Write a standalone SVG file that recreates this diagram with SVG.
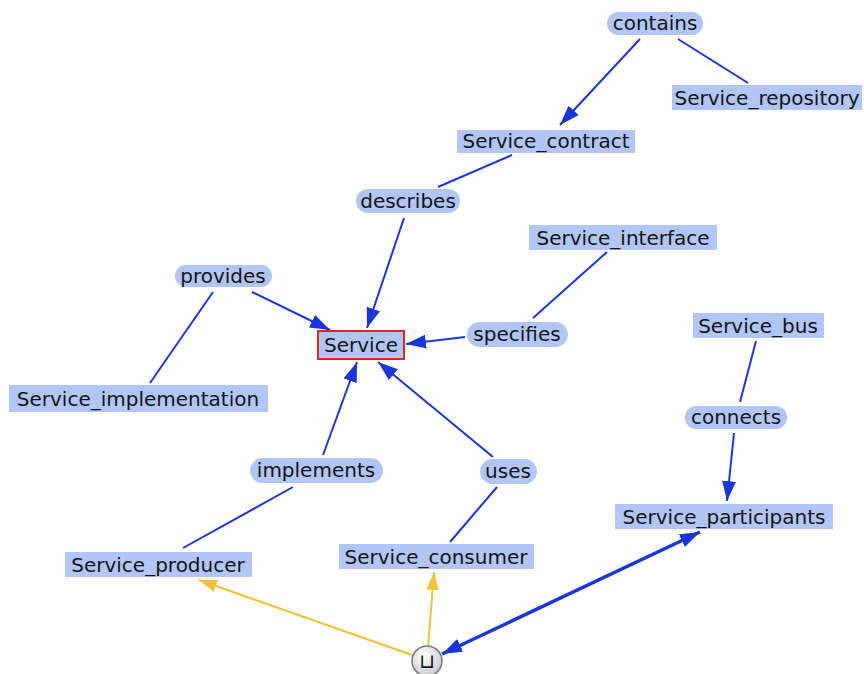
<svg xmlns="http://www.w3.org/2000/svg" width="864" height="674" viewBox="0 0 864 674">
<defs>
<style>
.n{fill:#b1c5f6}
.t{font-family:"DejaVu Sans",sans-serif;font-size:20px;fill:#141414;text-anchor:middle}
.e{stroke:#1a36d8;stroke-width:2;fill:none}
.y{stroke:#f0c23a;stroke-width:2;fill:none}
</style>
<marker id="ab" viewBox="0 0 20 14" refX="20" refY="7" markerWidth="20" markerHeight="14" markerUnits="userSpaceOnUse" orient="auto-start-reverse"><path d="M0,0L20,7L0,14z" fill="#1a36d8"/></marker>
<marker id="ay" viewBox="0 0 20 14" refX="20" refY="7" markerWidth="18" markerHeight="13" markerUnits="userSpaceOnUse" orient="auto"><path d="M0,0L20,7L0,14z" fill="#f0c23a"/></marker>
<radialGradient id="ug" cx="0.4" cy="0.35" r="0.7"><stop offset="0" stop-color="#ffffff"/><stop offset="1" stop-color="#c8c8c8"/></radialGradient>
</defs>
<rect width="864" height="674" fill="#ffffff"/>
<g id="connectors">
<line class="e" x1="640" y1="39" x2="560" y2="125" marker-end="url(#ab)"/>
<line class="e" x1="678" y1="39" x2="748" y2="83"/>
<line class="e" x1="512" y1="155" x2="438" y2="187"/>
<line class="e" x1="404" y1="218" x2="367" y2="328" marker-end="url(#ab)"/>
<line class="e" x1="607" y1="252" x2="533" y2="318"/>
<line class="e" x1="465" y1="337" x2="406" y2="344" marker-end="url(#ab)"/>
<line class="e" x1="252" y1="292" x2="330" y2="330" marker-end="url(#ab)"/>
<line class="e" x1="213" y1="292" x2="150" y2="383"/>
<line class="e" x1="323" y1="455" x2="357" y2="362" marker-end="url(#ab)"/>
<line class="e" x1="493" y1="457" x2="378" y2="362" marker-end="url(#ab)"/>
<line class="e" x1="293" y1="487" x2="183" y2="548"/>
<line class="e" x1="497" y1="487" x2="450" y2="542"/>
<line class="e" x1="756" y1="341" x2="740" y2="402"/>
<line class="e" x1="734" y1="433" x2="727" y2="501" marker-end="url(#ab)"/>
<line class="y" x1="412" y1="655" x2="199" y2="580" marker-end="url(#ay)"/>
<line class="y" x1="428" y1="647" x2="434" y2="572" marker-end="url(#ay)"/>
<line class="e" style="stroke-width:3.5" x1="442" y1="654" x2="700" y2="532" marker-start="url(#ab)" marker-end="url(#ab)"/>
</g>
<g id="contains"><rect class="n" x="607" y="12" width="96" height="23" rx="11.5"/><text class="t" x="655" y="30">contains</text></g>
<g id="Service_repository"><rect class="n" x="672" y="85" width="190" height="25"/><text class="t" x="767" y="105">Service_repository</text></g>
<g id="Service_contract"><rect class="n" x="457" y="130" width="178" height="23"/><text class="t" x="546" y="148">Service_contract</text></g>
<g id="describes"><rect class="n" x="356" y="189" width="104" height="24" rx="12"/><text class="t" x="408" y="208">describes</text></g>
<g id="Service_interface"><rect class="n" x="529" y="225" width="188" height="25"/><text class="t" x="623" y="245">Service_interface</text></g>
<g id="specifies"><rect class="n" x="467" y="322" width="101" height="25" rx="12.5"/><text class="t" x="517" y="341">specifies</text></g>
<g id="Service"><rect class="n" x="318" y="331" width="86" height="28" stroke="#d22a2a" stroke-width="2"/><text class="t" x="361" y="352">Service</text></g>
<g id="provides"><rect class="n" x="175" y="265" width="97" height="22" rx="11"/><text class="t" x="223" y="283">provides</text></g>
<g id="Service_implementation"><rect class="n" x="9" y="385" width="259" height="27"/><text class="t" x="138" y="406">Service_implementation</text></g>
<g id="implements"><rect class="n" x="250" y="458" width="133" height="25" rx="12.5"/><text class="t" x="316" y="477">implements</text></g>
<g id="uses"><rect class="n" x="480" y="459" width="57" height="25" rx="12.5"/><text class="t" x="508" y="478">uses</text></g>
<g id="Service_producer"><rect class="n" x="65" y="552" width="187" height="25"/><text class="t" x="158" y="572">Service_producer</text></g>
<g id="Service_consumer"><rect class="n" x="339" y="544" width="195" height="25"/><text class="t" x="436" y="564">Service_consumer</text></g>
<g id="Service_bus"><rect class="n" x="693" y="313" width="131" height="25"/><text class="t" x="758" y="333">Service_bus</text></g>
<g id="connects"><rect class="n" x="685" y="406" width="102" height="23" rx="11.5"/><text class="t" x="736" y="424">connects</text></g>
<g id="Service_participants"><rect class="n" x="615" y="504" width="218" height="25"/><text class="t" x="724" y="524">Service_participants</text></g>
<g id="union"><circle cx="427" cy="661" r="15" fill="url(#ug)" stroke="#777777" stroke-width="1.5"/><text class="t" x="427" y="668" style="font-size:20px">⊔</text></g>
</svg>
